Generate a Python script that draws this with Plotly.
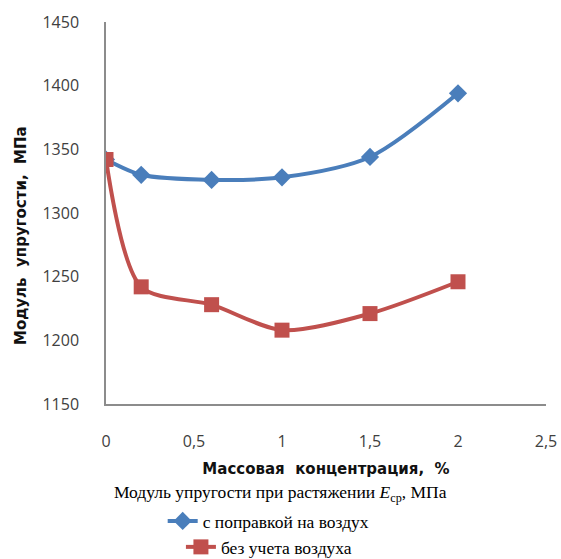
import plotly.graph_objects as go

x_vals = [0, 0.2, 0.6, 1, 1.5, 2]
series_corr = [1342, 1330, 1326, 1328, 1344, 1394]
series_raw = [1342, 1242, 1228, 1208, 1221, 1246]
name_corr = "с поправкой на воздух"
name_raw = "без учета воздуха"
x_ticks = [0, 0.5, 1, 1.5, 2, 2.5]
x_ticklabels = ["0", "0,5", "1", "1,5", "2", "2,5"]
y_ticks = [1150, 1200, 1250, 1300, 1350, 1400, 1450]
x_title = "Массовая\u00a0\u00a0концентрация,\u00a0\u00a0%"
y_title = "Модуль\u00a0\u00a0упругости,\u00a0\u00a0МПа"
legend_title = "Модуль упругости при растяжении <i>E</i><sub>ср</sub>, МПа"

fig = go.Figure()
fig.add_trace(go.Scatter(
    x=x_vals, y=series_corr, name=name_corr, mode="lines+markers",
    line=dict(color="#4A7EBB", width=4, shape="spline", smoothing=0.8),
    marker=dict(symbol="diamond", size=14, color="#4A7EBB"),
    legend="legend",
))
fig.add_trace(go.Scatter(
    x=x_vals, y=series_raw, name=name_raw, mode="lines+markers",
    line=dict(color="#C0504D", width=4, shape="spline", smoothing=0.8),
    marker=dict(symbol="square", size=15, color="#C0504D"),
    legend="legend2",
))

tick_font = dict(family="Open Sans, Lato, sans-serif", size=16, color="#404040")
title_font = dict(family="DejaVu Sans, Verdana, sans-serif", size=15, color="#111111")
serif = dict(family="Liberation Serif, Times New Roman, serif", size=17.5, color="#000000")

fig.update_layout(
    width=561, height=559,
    margin=dict(l=106, r=15, t=22, b=155, autoexpand=False),
    paper_bgcolor="white", plot_bgcolor="white",
    xaxis=dict(
        range=[0, 2.5], tickvals=x_ticks, ticktext=x_ticklabels,
        showgrid=False, zeroline=False, showline=True, linecolor="#8c8c8c", linewidth=1.5,
        ticks="outside", ticklen=22, tickcolor="rgba(0,0,0,0)", tickfont=tick_font, tickangle=0,
        title=dict(text="<b>" + x_title + "</b>", font=title_font, standoff=13),
    ),
    yaxis=dict(
        range=[1150, 1450], tickvals=y_ticks,
        showgrid=False, zeroline=False, showline=True, linecolor="#8c8c8c", linewidth=1.5,
        ticks="outside", ticklen=22, tickcolor="rgba(0,0,0,0)", tickfont=tick_font,
    ),
    legend=dict(
        xref="container", yref="container", x=0.29, y=1 - 521 / 559,
        xanchor="left", yanchor="middle", font=serif, itemwidth=30,
        bgcolor="rgba(0,0,0,0)", tracegroupgap=0,
    ),
    legend2=dict(
        xref="container", yref="container", x=0.3225, y=1 - 547 / 559,
        xanchor="left", yanchor="middle", font=serif, itemwidth=30,
        bgcolor="rgba(0,0,0,0)",
    ),
    showlegend=True,
    annotations=[
        dict(
            xref="paper", yref="paper", x=(280 - 106) / 440, y=-(493 - 404) / 382,
            xanchor="center", yanchor="middle", showarrow=False,
            text=legend_title, font=serif,
        ),
        dict(
            xref="paper", yref="paper", x=(21 - 106) / 440, y=(404 - 236) / 382,
            xanchor="center", yanchor="middle", showarrow=False, textangle=-90,
            text="<b>" + y_title + "</b>", font=title_font,
        ),
    ],
)

fig.write_html("out.html", post_script="document.body.style.margin='0';",
               config={"displayModeBar": False})
